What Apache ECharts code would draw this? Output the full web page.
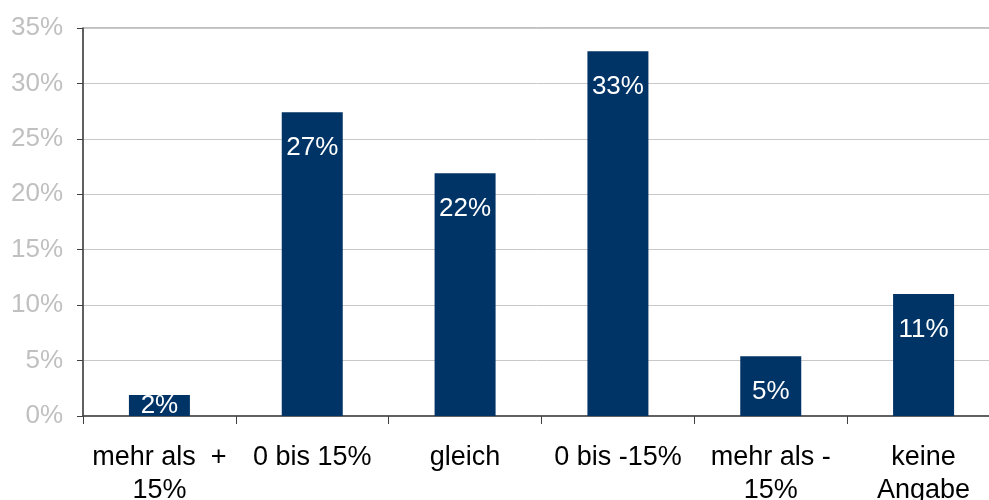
<!DOCTYPE html>
<html>
<head>
<meta charset="utf-8">
<script src="https://cdn.jsdelivr.net/npm/echarts@6/dist/echarts.min.js"></script>
<style>
html, body { margin: 0; padding: 0; background: #fff; }
#myChart { width: 989px; height: 500px; }
</style>
</head>
<body>
<div id="myChart"></div>
<script>
// 设置数据
let categories = ['mehr als  +\n15%', '0 bis 15%', 'gleich', '0 bis -15%', 'mehr als -\n15%', 'keine\nAngabe']
let values = [1.9, 27.4, 21.9, 32.9, 5.4, 11.0]
let yTicks = [0, 5, 10, 15, 20, 25, 30, 35]

let myChart = echarts.init(document.getElementById('myChart'))

let option = {
    animation: false,
    grid: {
        left: 83,
        right: -11,
        top: 28,
        bottom: 84,
        outerBoundsMode: 'none',
        containLabel: false,
        show: true,
        borderColor: '#808080',
        borderWidth: 1
    },
    xAxis: {
        type: 'category',
        data: categories,
        axisLine: { lineStyle: { color: '#404040', width: 1.5 } },
        axisTick: { show: true, length: 8, lineStyle: { color: '#404040' } },
        axisLabel: {
            color: '#000',
            fontSize: 27,
            fontFamily: 'Liberation Sans',
            lineHeight: 33,
            margin: 25,
            interval: 0
        }
    },
    yAxis: {
        type: 'value',
        min: yTicks[0],
        max: yTicks[yTicks.length - 1],
        interval: 5,
        axisLine: { show: true, lineStyle: { color: '#404040', width: 1.5 } },
        axisTick: { show: true, length: 6, lineStyle: { color: '#404040' } },
        axisLabel: {
            color: '#c0c0c0',
            fontSize: 26,
            fontFamily: 'Liberation Sans',
            margin: 20,
            formatter: v => v + '%'
        },
        splitLine: { lineStyle: { color: '#c8c8c8' } }
    },
    series: [
        {
            type: 'bar',
            barWidth: 61,
            data: values.map((v, i) => i === 0 ? { value: v, label: { position: 'inside' } } : v),
            itemStyle: { color: '#003366' },
            label: {
                show: true,
                position: 'insideTop',
                distance: 23,
                color: '#fff',
                fontSize: 26,
                fontFamily: 'Liberation Sans',
                formatter: p => Math.round(p.value) + '%'
            }
        }
    ]
}
myChart.setOption(option)

window.addEventListener('resize', () => {
    myChart.resize()
})
</script>
</body>
</html>
